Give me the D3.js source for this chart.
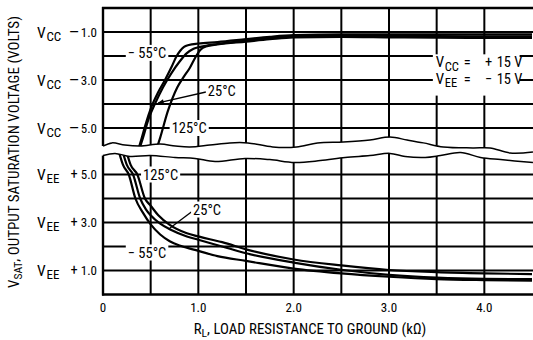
<!DOCTYPE html>
<html><head><meta charset="utf-8">
<script src="https://cdn.jsdelivr.net/npm/d3@7"></script>
<style>
html,body{margin:0;padding:0;background:#fff;}
svg{display:block;}
text{font-family:"Roboto Condensed","Liberation Sans Narrow","DejaVu Sans Condensed",sans-serif;fill:#000;}
</style></head><body>
<svg id="c" width="533" height="340"></svg>
<script>
// ---------- data ----------
const xTickValues = [0, 1, 2, 3, 4];
const xTickLabels = ["0", "1.0", "2.0", "3.0", "4.0"];
const xGrid = [0.5, 1, 1.5, 2, 2.5, 3, 3.5, 4];
const yGrid = [1, 2, 3, 4, 5];
const topTickValues = [1, 3, 5];
const topTickLabels = ["1.0", "3.0", "5.0"];
const botTickValues = [5, 3, 1];
const botTickLabels = ["5.0", "3.0", "1.0"];

// top panel: volts below VCC vs R_L (kOhm)
const topM55 = [[0.37,5.9],[0.40,5.5],[0.45,4.8],[0.50,4.2],[0.58,3.5],[0.65,3.0],[0.72,2.45],[0.77,2.02],[0.81,1.78],[0.85,1.62],[0.90,1.54],[1.0,1.48],[1.2,1.42],[1.5,1.3],[1.75,1.2],[2.0,1.13],[2.5,1.1],[3.0,1.1],[3.5,1.1],[4.0,1.1],[4.5,1.1]];
const top25  = [[0.38,5.9],[0.42,5.4],[0.48,4.6],[0.55,3.95],[0.63,3.3],[0.72,2.7],[0.80,2.25],[0.88,1.88],[0.95,1.7],[1.02,1.62],[1.2,1.5],[1.5,1.36],[1.75,1.25],[2.0,1.18],[2.5,1.15],[3.0,1.16],[3.5,1.17],[4.0,1.18],[4.5,1.18]];
const top125 = [[0.56,5.9],[0.60,5.4],[0.68,4.3],[0.78,3.3],[0.85,2.85],[0.91,2.5],[0.97,2.05],[1.02,1.75],[1.08,1.6],[1.2,1.52],[1.5,1.4],[1.75,1.3],[2.0,1.22],[2.5,1.2],[3.0,1.22],[3.5,1.24],[4.0,1.25],[4.5,1.25]];

// bottom panel: volts above VEE vs R_L (kOhm)
const bot125 = [[0.25,5.9],[0.29,5.4],[0.36,5.0],[0.44,4.0],[0.5,3.7],[0.58,3.3],[0.7,2.9],[0.88,2.55],[1.0,2.42],[1.12,2.3],[1.25,2.18],[1.5,1.88],[2.0,1.46],[2.5,1.21],[3.0,1.02],[3.5,0.93],[4.0,0.88],[4.5,0.85]];
const bot25  = [[0.21,5.9],[0.25,5.4],[0.315,5.0],[0.39,4.0],[0.45,3.55],[0.5,3.3],[0.6,2.95],[0.7,2.72],[0.88,2.42],[1.0,2.28],[1.25,2.0],[1.5,1.72],[2.0,1.33],[2.5,1.03],[3.0,0.82],[3.5,0.7],[4.0,0.65],[4.5,0.64]];
const botM55 = [[0.17,5.9],[0.21,5.4],[0.27,5.0],[0.34,4.0],[0.42,3.4],[0.5,2.92],[0.6,2.5],[0.7,2.22],[0.82,2.02],[1.0,1.82],[1.2,1.6],[1.5,1.4],[2.0,1.08],[2.5,0.88],[3.0,0.74],[3.5,0.64],[4.0,0.6],[4.5,0.58]];

// broken-axis wavy edges
const breakTopX = [0,0.094,0.23,0.39,0.6,0.76,0.91,1.12,1.33,1.52,1.78,2.03,2.25,2.52,2.8,3.01,3.19,3.36,3.57,3.88,4.06,4.27,4.51];
const breakTopV = [5.75,5.62,5.71,5.75,5.67,5.75,5.79,5.71,5.62,5.62,5.79,5.79,5.62,5.58,5.5,5.38,5.5,5.62,5.79,5.83,5.83,6.04,6.0];
const breakBotX = [0,0.126,0.283,0.493,0.755,0.965,1.175,1.49,1.75,2.01,2.28,2.54,2.8,3.01,3.17,3.38,3.54,3.75,3.96,4.17,4.51];
const breakBotV = [5.79,5.88,5.75,5.79,5.71,5.67,5.54,5.67,5.62,5.5,5.58,5.71,5.79,5.88,5.75,5.71,5.79,5.92,5.71,5.62,5.5];

// curve labels: [panel, text, x, v]
const curveLabels = [
  ["top", "\u2212 55\u00B0C", 0.26, 1.87],
  ["top", "25\u00B0C", 1.10, 3.46],
  ["top", "125\u00B0C", 0.72, 5.0],
  ["bot", "125\u00B0C", 0.42, 5.0],
  ["bot", "25\u00B0C", 0.945, 3.54],
  ["bot", "\u2212 55\u00B0C", 0.26, 1.75]
];
// leader lines: [panel, x1, v1, x2, v2, arrow]
const leaders = [
  ["top", 1.08, 3.5, 0.58, 3.95, true],
  ["bot", 0.93, 3.45, 0.70, 2.76, false]
];
// supply annotation rows: [subscript, sign, v]
const supply = [["CC", "+", 2.25], ["EE", "\u2212", 2.95]];

// ---------- scales ----------
const svg = d3.select("#c");
const x = d3.scaleLinear().domain([0, 4.5]).range([103, 532]);
const yTop = d3.scaleLinear().domain([0, 5]).range([8, 128]);
const yBot = d3.scaleLinear().domain([0, 5]).range([294.5, 174.5]);
const yOf = p => p === "top" ? yTop : yBot;
const waveTopAt = d3.scaleLinear().domain(breakTopX).range(breakTopV);
const waveBotAt = d3.scaleLinear().domain(breakBotX).range(breakBotV);

const defs = svg.append("defs");
const waveLine = y => d3.line().x(d => x(d[0])).y(d => y(d[1])).curve(d3.curveCatmullRom);
const topWave = breakTopX.map((v, i) => [v, breakTopV[i]]);
const botWave = breakBotX.map((v, i) => [v, breakBotV[i]]);
const topWaveD = waveLine(yTop)(topWave);
const botWaveD = waveLine(yBot)(botWave);

defs.append("clipPath").attr("id", "clipTop").append("path")
  .attr("d", topWaveD + `L560,${yTop(6)}L560,-5L90,-5L90,${yTop(5.75)}Z`);
defs.append("clipPath").attr("id", "clipBot").append("path")
  .attr("d", botWaveD + `L560,${yBot(5.5)}L560,320L90,320L90,${yBot(5.79)}Z`);
defs.append("marker").attr("id", "arr").attr("viewBox", "0 0 10 10")
  .attr("refX", 9).attr("refY", 5).attr("markerWidth", 7).attr("markerHeight", 6)
  .attr("orient", "auto").attr("markerUnits", "userSpaceOnUse")
  .append("path").attr("d", "M0,1L10,5L0,9Z").attr("fill", "#000");

// grid (vertical lines end on the wavy break)
const gGrid = svg.append("g").attr("stroke", "#000").attr("stroke-width", 2);
xGrid.forEach(d => {
  gGrid.append("line").attr("x1", x(d)).attr("x2", x(d)).attr("y1", yTop(0)).attr("y2", yTop(waveTopAt(d)));
  gGrid.append("line").attr("x1", x(d)).attr("x2", x(d)).attr("y1", yBot(waveBotAt(d))).attr("y2", yBot(0));
});
yGrid.forEach(d => {
  gGrid.append("line").attr("x1", x(0)).attr("x2", 533).attr("y1", yTop(d)).attr("y2", yTop(d));
  gGrid.append("line").attr("x1", x(0)).attr("x2", 533).attr("y1", yBot(d)).attr("y2", yBot(d));
});
// frame
const gFrame = svg.append("g").attr("stroke", "#000").attr("stroke-width", 2.4);
gFrame.append("line").attr("x1", x(0)).attr("x2", x(0)).attr("y1", yTop(0) - 1).attr("y2", yTop(waveTopAt(0)));
gFrame.append("line").attr("x1", x(0) - 1).attr("x2", 533).attr("y1", yTop(0)).attr("y2", yTop(0));
gFrame.append("line").attr("x1", x(0)).attr("x2", x(0)).attr("y1", yBot(waveBotAt(0))).attr("y2", yBot(0) + 1);
gFrame.append("line").attr("x1", x(0) - 1).attr("x2", 533).attr("y1", yBot(0)).attr("y2", yBot(0));

// wave lines
svg.append("path").attr("d", topWaveD).attr("fill", "none").attr("stroke", "#000").attr("stroke-width", 1.5);
svg.append("path").attr("d", botWaveD).attr("fill", "none").attr("stroke", "#000").attr("stroke-width", 1.5);

// curves
const gTop = svg.append("g").attr("clip-path", "url(#clipTop)");
const gBot = svg.append("g").attr("clip-path", "url(#clipBot)");
const cLine = y => d3.line().x(d => x(d[0])).y(d => y(d[1])).curve(d3.curveMonotoneX);
[topM55, top25, top125].forEach(s => gTop.append("path").attr("d", cLine(yTop)(s))
  .attr("fill", "none").attr("stroke", "#000").attr("stroke-width", 2.2));
[bot125, bot25, botM55].forEach(s => gBot.append("path").attr("d", cLine(yBot)(s))
  .attr("fill", "none").attr("stroke", "#000").attr("stroke-width", 2.2));

// leaders
leaders.forEach(l => {
  const y = yOf(l[0]);
  const p = d3.path(); p.moveTo(x(l[1]), y(l[2])); p.lineTo(x(l[3]), y(l[4]));
  const ln = svg.append("path").attr("d", p.toString()).attr("fill", "none")
    .attr("stroke", "#000").attr("stroke-width", 1.3);
  if (l[5]) ln.attr("marker-end", "url(#arr)");
});

// curve labels with white backing
curveLabels.forEach(c => {
  const y = yOf(c[0]);
  const g = svg.append("g");
  const t = g.append("text").attr("x", x(c[2])).attr("y", y(c[3]) + 5).attr("font-size", 14.5).text(c[1]);
  const b = t.node().getBBox();
  g.insert("rect", "text").attr("x", b.x - 2).attr("y", y(c[3]) - 8).attr("width", b.width + 4).attr("height", 16).attr("fill", "#fff");
});

// supply annotation
svg.append("rect").attr("x", x(3.46)).attr("y", yTop(1.93)).attr("width", x(4.37) - x(3.46))
  .attr("height", yTop(3.65) - yTop(1.93)).attr("fill", "#fff");
supply.forEach(s => {
  const yy = yTop(s[2]);
  const x0 = x(3.49);
  svg.append("text").attr("x", x0).attr("y", yy + 5).attr("font-size", 15).text("V");
  svg.append("text").attr("x", x0 + 9).attr("y", yy + 8.5).attr("font-size", 12.5).text(s[0]);
  svg.append("text").attr("x", x0 + 28).attr("y", yy + 5).attr("font-size", 14.5).text("=");
  svg.append("text").attr("x", x0 + 53).attr("y", yy + 5).attr("font-size", 14.5).attr("text-anchor", "middle").text(s[1]);
  svg.append("text").attr("x", x0 + 61).attr("y", yy + 5).attr("font-size", 14.5).text("15 V");
});

// y tick labels
function yLabel(y, v, sub, sign, lab) {
  const yy = y(v);
  svg.append("text").attr("x", 37).attr("y", yy + 5.5).attr("font-size", 15.5).text("V");
  svg.append("text").attr("x", 46.5).attr("y", yy + 8.8).attr("font-size", 13).text(sub);
  svg.append("text").attr("x", 74).attr("y", yy + 4.5).attr("font-size", 14.5).attr("text-anchor", "middle").text(sign);
  svg.append("text").attr("x", 97).attr("y", yy + 4.5).attr("font-size", 13).attr("text-anchor", "end").text(lab);
}
topTickValues.forEach((v, i) => yLabel(yTop, v, "CC", "\u2014", topTickLabels[i]));
botTickValues.forEach((v, i) => yLabel(yBot, v, "EE", "+", botTickLabels[i]));

// x tick labels
xTickValues.forEach((v, i) => svg.append("text").attr("x", x(v)).attr("y", 311.5)
  .attr("font-size", 13).attr("text-anchor", "middle").text(xTickLabels[i]));

// axis titles
const xt = svg.append("text").attr("x", 310).attr("y", 334).attr("font-size", 14.8).attr("text-anchor", "middle");
xt.append("tspan").text("R");
xt.append("tspan").attr("font-size", 11.5).attr("dy", 3).text("L");
xt.append("tspan").attr("dy", -3).text(", LOAD RESISTANCE TO GROUND (k\u03A9)");

const yt = svg.append("text").attr("transform", "translate(19,152) rotate(-90)").attr("font-size", 15).attr("text-anchor", "middle");
yt.append("tspan").text("V");
yt.append("tspan").attr("font-size", 11.5).attr("dy", 3).text("SAT");
yt.append("tspan").attr("dy", -3).text(", OUTPUT SATURATION VOLTAGE (VOLTS)");
</script>
</body></html>
